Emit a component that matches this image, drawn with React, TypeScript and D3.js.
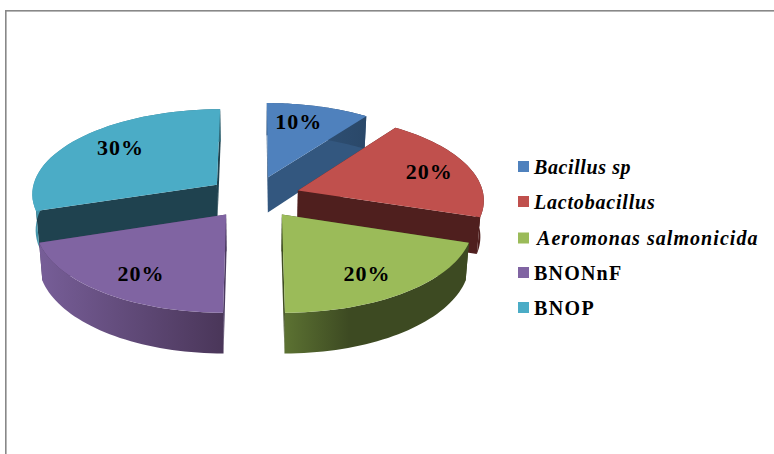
import React from "react";
import * as d3 from "d3";

// Share of each isolate, in percent
const names = ["Bacillus sp", "Lactobacillus", "Aeromonas salmonicida", "BNONnF", "BNOP"];
const shares = [10, 20, 20, 20, 30];
const italicName = [true, true, true, false, false];
const topColors = ["#4F81BD", "#C0504D", "#9BBB59", "#8064A2", "#4BACC6"];
const radialColors = ["#33577F", "#4F1F1E", "#3F4D22", "#4B3A60", "#1F424F"];
const wallLight = ["#33577F", "#5A2523", "#5C7232", "#775E98", "#4596AC"];
const wallDark = ["#2A4869", "#4F1F1E", "#3D4A22", "#4A3659", "#2F6A7A"];
const paintOrder = [0, 4, 1, 3, 2];
const legendRows = [166.5, 201.5, 238, 272.5, 307.5];
const legendSpacing = [0.6, 0.8, 1.05, 1.2, 1.4];
const labelReachX = [0.6, 0.77, 0.7, 0.7, 0.69];
const labelReachY = [0.76, 0.74, 0.78, 0.78, 0.8];

const W = 774;
const H = 454;
const CX = 254;
const CY = 197;
const RX = 186;
const RY = 85;
const PERSPECTIVE = 0.097;
const EXPLODE = 0.25;
const DEPTH = 36;
const BASE_SHRINK = 0.015;
const SERIF = "'Liberation Serif', 'Times New Roman', serif";

type Pt = [number, number];

// Ground-plane point (unit-circle coordinates, v toward the viewer) to the screen.
// Points lower on the wall sit further from the eye, so they narrow slightly.
function project(u: number, v: number, drop = 0): Pt {
  const s = 1 / (1 - PERSPECTIVE * v);
  const narrow = 1 - (BASE_SHRINK * drop) / DEPTH;
  return [CX + RX * u * s * narrow, CY + RY * v * s + drop * s];
}

const toPath = (pts: Pt[]) => d3.line()(pts) + "Z";

const arcs = d3.pie<number>().sort(null)(shares);

function sliceGeometry(i: number) {
  const a = arcs[i];
  const mid = (a.startAngle + a.endAngle) / 2;
  const ox = EXPLODE * Math.sin(mid);
  const oy = -EXPLODE * Math.cos(mid);
  const rim = d3.range(0, 41).map((k) => a.startAngle + ((a.endAngle - a.startAngle) * k) / 40);
  const rimAt = (drop: number) =>
    rim.map((t) => project(ox + Math.sin(t), oy - Math.cos(t), drop));
  const apex = project(ox, oy);
  const apexLow = project(ox, oy, DEPTH);
  const top = rimAt(0);
  const low = rimAt(DEPTH);
  return {
    top: toPath([apex, ...top]),
    wall: toPath([...top, ...low.slice().reverse()]),
    startFace: toPath([apex, top[0], low[0], apexLow]),
    endFace: toPath([apex, top[40], low[40], apexLow]),
    label: project(ox + labelReachX[i] * Math.sin(mid), oy - labelReachY[i] * Math.cos(mid)),
  };
}

export default function App() {
  return (
    <svg
      width={W}
      height={H}
      viewBox={`0 0 ${W} ${H}`}
      style={{ position: "fixed", left: 0, top: 0, background: "#fff" }}
    >
      <defs>
        {shares.map((_, i) => (
          <linearGradient key={i} id={`wall-${i}`} x1="0" x2="1" y1="0" y2="0">
            <stop offset="0" stopColor={wallLight[i]} />
            <stop offset={i === 2 ? 0.35 : 1} stopColor={wallDark[i]} />
            <stop offset="1" stopColor={wallDark[i]} />
          </linearGradient>
        ))}
      </defs>

      <rect x={5} y={10} width={W} height={1.6} fill="#888" />
      <rect x={5} y={10} width={1.6} height={H} fill="#888" />

      {paintOrder.map((i) => {
        const g = sliceGeometry(i);
        return (
          <g key={i}>
            <path d={g.startFace} fill={radialColors[i]} />
            <path d={g.endFace} fill={radialColors[i]} />
            <path d={g.wall} fill={`url(#wall-${i})`} />
            <path d={g.top} fill={topColors[i]} />
          </g>
        );
      })}

      {shares.map((v, i) => {
        const g = sliceGeometry(i);
        return (
          <text
            key={i}
            x={g.label[0]}
            y={g.label[1] + 7}
            textAnchor="middle"
            fontFamily={SERIF}
            fontWeight="bold"
            fontSize={22}
            letterSpacing={1}
            fill="#000"
          >
            {v}%
          </text>
        );
      })}

      {names.map((n, i) => (
        <g key={n}>
          <rect x={518} y={legendRows[i] - 5.5} width={11} height={11} fill={topColors[i]} />
          <text
            x={i === 2 ? 537 : 534}
            y={legendRows[i] + 7}
            fontFamily={SERIF}
            fontWeight="bold"
            fontStyle={italicName[i] ? "italic" : "normal"}
            fontSize={20}
            letterSpacing={legendSpacing[i]}
            fill="#000"
          >
            {n}
          </text>
        </g>
      ))}
    </svg>
  );
}
